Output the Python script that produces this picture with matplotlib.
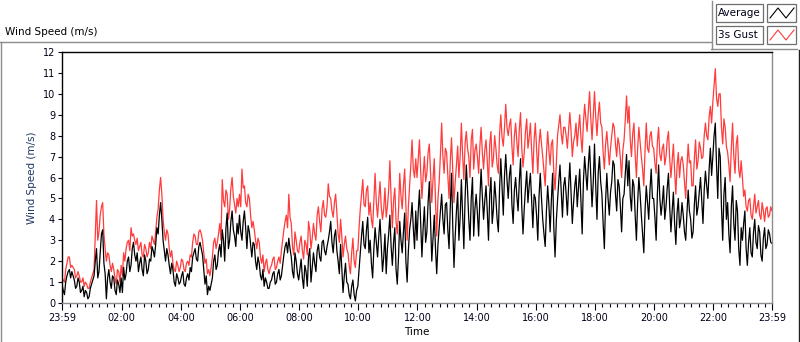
import matplotlib
matplotlib.use('Agg')
import matplotlib.pyplot as plt
from matplotlib.lines import Line2D
from matplotlib.patches import Rectangle

W, H = 800, 342

# one sample every 2.5 minutes, first at 23:59 of the previous day
minutes = [-1 + 2.5 * i for i in range(577)]

# Average wind speed (m/s), one row per hour
avg = [
    0.9, 0.6, 0.4, 1.0, 1.3, 1.5, 1.6, 1.2, 1.5, 1.3, 1.1, 0.7, 0.8, 1.2, 1.0, 0.5, 0.6, 0.8, 0.3, 0.6, 0.5, 0.2, 0.3, 0.7,
    0.9, 1.1, 1.3, 2.0, 2.6, 1.2, 1.5, 2.4, 3.3, 3.5, 1.9, 1.4, 0.2, 1.2, 1.6, 1.0, 0.7, 1.3, 1.2, 0.6, 0.4, 1.1, 0.9, 0.5,
    1.2, 0.5, 1.7, 1.1, 1.4, 2.0, 2.2, 1.5, 1.8, 2.6, 2.9, 2.3, 2.0, 2.4, 1.5, 1.9, 2.2, 1.6, 1.3, 2.3, 2.0, 1.4, 1.6, 2.1,
    2.0, 2.7, 2.5, 2.2, 2.8, 3.6, 3.3, 4.2, 4.8, 4.0, 3.0, 2.5, 2.0, 2.6, 2.3, 1.8, 1.4, 1.9, 1.6, 1.0, 0.8, 1.4, 1.2, 0.9,
    1.0, 1.3, 1.5, 0.9, 0.8, 1.2, 1.4, 1.1, 1.7, 1.5, 2.2, 2.4, 2.6, 2.1, 2.0, 2.7, 2.9, 2.6, 2.3, 1.6, 0.9, 1.3, 0.4, 0.8,
    0.6, 0.9, 1.2, 2.0, 2.3, 1.6, 1.8, 2.5, 2.8, 2.2, 3.5, 3.0, 2.0, 3.6, 4.3, 2.6, 3.0, 3.9, 4.4, 3.5, 3.2, 2.7, 3.8, 3.3,
    4.2, 3.4, 3.0, 3.9, 4.4, 3.6, 2.6, 3.7, 3.4, 2.8, 2.2, 2.9, 2.8, 2.0, 1.6, 2.2, 1.9, 1.3, 1.1, 1.6, 0.8, 1.2, 1.0, 0.7,
    0.7, 1.0, 1.1, 1.4, 1.5, 0.9, 1.0, 1.4, 1.6, 1.1, 1.3, 1.8, 2.3, 2.7, 2.9, 2.4, 3.1, 2.6, 2.2, 1.5, 1.2, 2.4, 2.0, 1.4,
    1.1, 1.6, 2.1, 1.2, 0.7, 1.8, 1.5, 0.8, 2.2, 2.6, 1.0, 1.7, 2.4, 1.9, 1.5, 2.5, 2.8, 2.2, 2.0, 2.9, 3.0, 2.5, 2.3, 2.7,
    3.0, 3.4, 3.9, 2.9, 2.4, 3.2, 3.5, 2.5, 2.0, 1.4, 2.8, 1.6, 0.5, 1.3, 1.9, 1.0, 0.9, 0.4, 0.2, 0.8, 1.1, 0.4, 0.1, 0.6,
    0.8, 1.6, 2.4, 3.2, 3.9, 2.8, 2.6, 3.5, 4.1, 2.4, 3.0, 1.9, 1.2, 2.6, 3.6, 2.9, 2.2, 3.2, 4.0, 2.7, 1.5, 2.2, 3.3, 1.4,
    2.6, 3.3, 4.2, 2.7, 1.8, 2.9, 3.6, 1.6, 0.9, 2.2, 3.9, 3.0, 2.4, 3.4, 4.3, 2.0, 1.0, 2.5, 3.5, 4.0, 4.8, 3.6, 2.6, 4.4,
    3.0, 4.4, 5.4, 3.8, 2.2, 3.6, 4.6, 2.9, 3.4, 4.8, 5.8, 3.9, 2.0, 3.1, 4.2, 2.6, 1.4, 2.8, 3.6, 4.4, 5.2, 4.0, 3.3, 4.7,
    4.8, 3.5, 2.6, 4.6, 6.2, 3.7, 1.7, 3.2, 4.4, 5.3, 3.0, 4.1, 5.9, 4.3, 2.6, 5.0, 6.6, 5.4, 4.0, 3.0, 5.0, 6.0, 3.2, 4.5,
    5.2, 4.3, 3.2, 5.0, 6.4, 5.1, 4.0, 4.9, 5.6, 4.4, 3.0, 5.2, 6.0, 3.8, 4.5, 5.8, 5.0, 4.0, 3.4, 5.5, 6.9, 5.6, 4.2, 6.1,
    7.1, 5.9, 5.0, 6.1, 6.6, 4.7, 3.8, 5.4, 6.0, 5.1, 4.4, 5.8, 6.9, 4.6, 3.3, 4.5, 5.5, 6.3, 4.8, 5.6, 6.2, 4.9, 3.6, 5.2,
    5.0, 4.2, 3.0, 5.1, 6.2, 5.0, 4.0, 3.3, 2.7, 4.4, 5.6, 4.7, 3.4, 4.9, 6.2, 3.6, 2.2, 3.9, 4.9, 5.8, 6.6, 5.3, 4.1, 5.6,
    6.0, 5.2, 4.2, 5.6, 6.7, 5.3, 3.8, 4.8, 5.6, 6.1, 4.6, 5.5, 6.4, 4.9, 3.3, 5.8, 7.0, 6.2, 5.4, 6.6, 7.5, 6.0, 4.6, 5.8,
    7.6, 5.6, 4.0, 6.2, 7.0, 5.8, 5.2, 3.8, 2.6, 4.9, 6.2, 5.0, 4.2, 5.3, 5.8, 6.8, 6.6, 5.2, 4.4, 5.9, 5.6, 4.6, 3.4, 5.0,
    5.2, 6.2, 7.1, 5.6, 6.8, 5.1, 4.4, 5.9, 5.6, 4.2, 3.0, 4.8, 6.0, 5.2, 4.2, 3.3, 2.4, 4.4, 5.6, 4.8, 4.0, 5.4, 6.4, 5.0,
    5.0, 4.1, 3.0, 5.2, 6.6, 5.0, 4.2, 4.8, 5.6, 4.0, 4.6, 5.5, 6.2, 4.6, 3.4, 4.4, 5.3, 3.8, 2.8, 4.3, 5.0, 3.6, 4.0, 4.8,
    4.2, 3.4, 3.0, 4.3, 5.4, 4.4, 4.0, 3.1, 3.4, 4.7, 5.6, 4.2, 4.6, 5.3, 6.0, 4.9, 3.8, 5.4, 6.3, 5.6, 5.0, 6.4, 7.4, 6.1,
    7.0, 8.0, 8.6, 6.6, 5.0, 7.4, 7.0, 4.6, 3.0, 5.2, 6.0, 4.0, 4.8, 3.3, 2.4, 4.6, 5.6, 3.8, 3.0, 4.9, 4.4, 2.6, 1.8, 3.6,
    3.0, 3.8, 4.4, 2.6, 1.8, 2.9, 3.6, 2.4, 2.2, 3.4, 4.0, 2.9, 2.6, 3.7, 3.4, 2.3, 2.0, 3.1, 3.6, 2.6, 2.8, 3.5, 3.3, 2.9,
    2.85,
]

# 3 second gust (m/s), one row per hour
gust = [
    1.2, 1.1, 1.0, 1.6, 1.9, 2.2, 2.2, 1.7, 1.8, 1.7, 1.6, 1.2, 1.3, 1.5, 1.3, 1.0, 1.0, 1.2, 0.8, 1.0, 0.9, 0.7, 0.7, 1.0,
    1.2, 1.4, 1.6, 3.2, 4.9, 3.0, 3.4, 4.2, 4.6, 4.8, 3.3, 2.6, 2.0, 2.4, 2.3, 1.8, 1.5, 1.9, 1.6, 1.2, 0.9, 1.6, 1.5, 1.0,
    1.8, 1.3, 2.4, 2.0, 2.6, 2.9, 3.0, 2.5, 3.6, 3.2, 3.3, 3.0, 2.8, 3.1, 2.5, 2.7, 2.9, 2.3, 2.2, 2.8, 2.6, 2.2, 2.4, 2.9,
    2.6, 3.2, 3.0, 2.8, 3.4, 4.1, 4.5, 5.4, 6.0, 5.2, 4.0, 3.4, 3.0, 3.5, 3.3, 2.6, 2.2, 2.5, 1.9, 1.6, 1.5, 2.0, 1.8, 1.5,
    1.7, 2.1, 2.0, 1.6, 1.5, 1.9, 2.0, 1.8, 2.3, 2.2, 2.9, 3.3, 3.2, 2.8, 2.8, 3.4, 3.5, 3.3, 3.0, 2.4, 1.9, 2.1, 1.4, 1.6,
    1.3, 1.7, 2.2, 2.9, 3.1, 2.6, 2.9, 3.3, 3.8, 3.0, 5.9, 4.9, 4.6, 5.4, 5.2, 4.0, 4.5, 5.5, 6.0, 5.1, 4.7, 4.3, 5.0, 4.6,
    5.2, 4.6, 6.4, 5.5, 5.6, 4.8, 4.6, 5.2, 5.0, 4.2, 3.6, 3.9, 3.5, 3.0, 2.6, 3.1, 2.9, 2.2, 1.9, 2.3, 1.5, 1.9, 2.1, 1.6,
    1.4, 1.7, 1.8, 2.1, 2.2, 1.6, 1.7, 2.0, 2.2, 1.9, 2.5, 3.0, 3.5, 3.9, 4.2, 3.6, 5.2, 4.1, 3.8, 2.7, 2.3, 3.4, 3.0, 2.5,
    2.4, 2.9, 3.2, 2.5, 2.1, 3.0, 2.8, 2.3, 3.9, 3.5, 2.6, 3.1, 3.8, 3.3, 3.0, 4.2, 4.6, 3.9, 3.4, 4.5, 4.9, 4.2, 4.1, 4.6,
    5.7, 5.1, 5.0, 4.4, 4.1, 4.8, 5.2, 4.3, 3.3, 2.9, 4.0, 3.2, 2.2, 2.8, 3.2, 2.6, 2.4, 1.8, 1.4, 2.4, 3.1, 2.0, 1.7, 2.5,
    2.5, 3.6, 4.5, 5.2, 5.9, 4.7, 4.6, 5.4, 5.6, 4.2, 4.8, 4.0, 3.6, 4.9, 6.2, 4.8, 4.1, 5.0, 5.8, 4.6, 4.0, 4.5, 5.5, 4.1,
    4.6, 5.4, 6.8, 5.0, 3.6, 4.9, 5.5, 3.9, 3.3, 4.4, 6.2, 5.1, 4.5, 5.6, 6.4, 4.6, 3.0, 4.6, 5.6, 6.6, 7.8, 6.4, 6.0, 6.9,
    6.0, 6.9, 7.8, 6.3, 5.0, 6.1, 7.0, 5.8, 6.2, 7.2, 7.6, 6.2, 4.8, 5.9, 6.9, 4.9, 3.2, 5.0, 5.8, 7.1, 8.6, 7.0, 6.2, 7.4,
    7.2, 6.1, 5.0, 6.8, 7.9, 6.4, 4.8, 5.8, 6.6, 7.5, 6.0, 7.0, 8.6, 7.1, 5.9, 7.6, 8.2, 7.4, 7.0, 6.0, 7.8, 8.3, 6.4, 7.3,
    7.6, 7.0, 6.2, 7.5, 8.4, 7.2, 6.4, 7.3, 7.8, 6.8, 5.6, 7.6, 8.2, 6.5, 6.9, 8.0, 7.4, 6.6, 6.2, 8.1, 9.0, 7.9, 7.5, 8.4,
    9.5, 8.4, 8.0, 8.5, 8.8, 7.5, 6.6, 8.0, 8.6, 7.7, 7.0, 8.3, 9.1, 7.4, 6.5, 7.2, 8.2, 8.8, 7.4, 7.9, 8.6, 7.3, 6.2, 7.8,
    8.6, 7.4, 6.2, 7.6, 8.3, 7.6, 7.0, 6.3, 5.6, 7.1, 8.2, 7.3, 6.6, 7.6, 7.8, 6.2, 5.4, 6.6, 8.0, 8.5, 9.0, 8.1, 7.6, 8.4,
    8.4, 8.0, 7.4, 8.3, 9.1, 8.2, 7.0, 7.7, 8.0, 8.6, 7.5, 8.3, 9.0, 7.9, 7.2, 8.6, 9.5, 8.8, 8.2, 9.2, 10.1, 8.8, 7.8, 9.0,
    10.1, 8.9, 8.0, 9.0, 9.6, 8.6, 8.4, 7.2, 6.4, 7.6, 8.2, 7.4, 6.6, 7.4, 8.0, 8.6, 8.4, 7.6, 7.0, 7.9, 7.6, 6.9, 6.0, 7.3,
    7.8, 8.8, 9.9, 8.6, 9.4, 7.8, 7.0, 8.1, 8.6, 7.1, 6.0, 7.4, 8.4, 7.7, 7.0, 6.4, 5.6, 7.3, 8.6, 7.4, 7.2, 8.0, 8.2, 7.5,
    7.4, 6.7, 6.2, 7.7, 8.4, 7.1, 6.8, 7.4, 7.6, 6.6, 7.0, 7.8, 8.2, 6.9, 6.0, 6.8, 7.6, 6.3, 5.2, 6.6, 7.2, 6.0, 6.8, 7.0,
    6.6, 5.8, 5.0, 6.5, 7.6, 6.7, 6.8, 5.6, 5.6, 6.9, 7.8, 6.4, 6.8, 7.7, 7.4, 6.9, 7.0, 8.0, 8.6, 8.0, 7.8, 8.9, 9.4, 8.6,
    9.6, 10.4, 11.2, 9.8, 9.4, 10.0, 10.0, 8.4, 7.6, 8.8, 8.4, 7.5, 7.2, 6.6, 5.8, 7.4, 8.6, 7.0, 6.2, 7.6, 8.0, 6.4, 6.0, 6.8,
    6.0, 5.1, 5.4, 4.6, 4.4, 4.9, 5.0, 4.2, 4.0, 4.6, 5.2, 4.3, 4.6, 4.9, 4.2, 4.0, 4.8, 4.4, 3.9, 4.5, 4.6, 4.1, 4.2, 4.6,
    4.4,
]

x_ticks = [-1, 120, 240, 360, 480, 600, 720, 840, 960, 1080, 1200, 1320, 1439]
x_labels = ['23:59', '02:00', '04:00', '06:00', '08:00', '10:00', '12:00',
            '14:00', '16:00', '18:00', '20:00', '22:00', '23:59']
y_ticks = list(range(0, 13))

GUST_RED = '#ff3b3b'
plt.rcParams['font.family'] = 'DejaVu Sans'


def fx(x):
    return x / W


def fy(y):
    return 1 - y / H


fig = plt.figure(figsize=(W / 100, H / 100), dpi=100)
fig.patch.set_facecolor('white')

# plot area (pixels: 62..772 x 52..303)
ax = fig.add_axes([fx(62), fy(303), fx(772) - fx(62), fy(52) - fy(303)])
ax.plot(minutes, gust, color=GUST_RED, lw=0.9)
ax.plot(minutes, avg, color='black', lw=0.9)

ax.set_xlim(-1, 1439)
ax.set_ylim(0, 12)
ax.set_yticks(y_ticks)
ax.set_xticks(x_ticks)
ax.set_xticklabels(x_labels)
ax.set_xticks([m for m in range(15, 1439, 15) if m % 120 != 0], minor=True)

ax.tick_params(axis='both', which='major', labelsize=7, colors='#000018',
               direction='out', width=0.8)
ax.tick_params(axis='y', length=3, pad=2)
ax.tick_params(axis='x', which='major', length=5, pad=2)
ax.tick_params(axis='x', which='minor', length=3, width=0.8, color='#000018')

ax.spines['top'].set_color('black')
ax.spines['left'].set_color('black')
ax.spines['bottom'].set_color('#8c8c8c')
ax.spines['right'].set_color('#8c8c8c')
for s in ax.spines.values():
    s.set_linewidth(1.0)

ax.set_ylabel('Wind Speed (m/s)', fontsize=7.5, color='#1f3864', labelpad=4)
ax.set_xlabel('Time', fontsize=7.5, color='black', labelpad=3)

# outer frame of the chart
frame = dict(color='#8c8c8c', lw=1.0, transform=fig.transFigure)
fig.add_artist(Line2D([fx(0.5), fx(0.5)], [fy(42), fy(342)], **frame))
fig.add_artist(Line2D([fx(0), fx(711)], [fy(42), fy(42)], **frame))
fig.add_artist(Line2D([fx(711.5), fx(711.5)], [fy(1), fy(49)], **frame))
fig.add_artist(Line2D([fx(711), fx(797)], [fy(49), fy(49)], **frame))
fig.add_artist(Line2D([fx(799), fx(799)], [fy(50), fy(342)],
                      color='#202020', lw=1.0, transform=fig.transFigure))

fig.text(fx(5), fy(32), 'Wind Speed (m/s)', fontsize=7.5, color='black',
         ha='left', va='center')

# legend boxes
legend_rows = [('Average', 'black', 4), ('3s Gust', GUST_RED, 26)]
for name, col, top in legend_rows:
    fig.add_artist(Rectangle((fx(716), fy(top + 18)), fx(763) - fx(716),
                             fy(top) - fy(top + 18), transform=fig.transFigure,
                             facecolor='white', edgecolor='#6e6e6e', lw=0.9))
    fig.add_artist(Rectangle((fx(767), fy(top + 18)), fx(796) - fx(767),
                             fy(top) - fy(top + 18), transform=fig.transFigure,
                             facecolor='white', edgecolor='#6e6e6e', lw=0.9))
    fig.text(fx(718), fy(top + 9), name, fontsize=7.5, color='#000018',
             ha='left', va='center')
    zx = [770, 778, 786, 794]
    zy = [top + 14, top + 4, top + 14, top + 4]
    fig.add_artist(Line2D([fx(v) for v in zx], [fy(v) for v in zy],
                          color=col, lw=0.8, transform=fig.transFigure))

fig.savefig('out.png', dpi=100, facecolor='white')
